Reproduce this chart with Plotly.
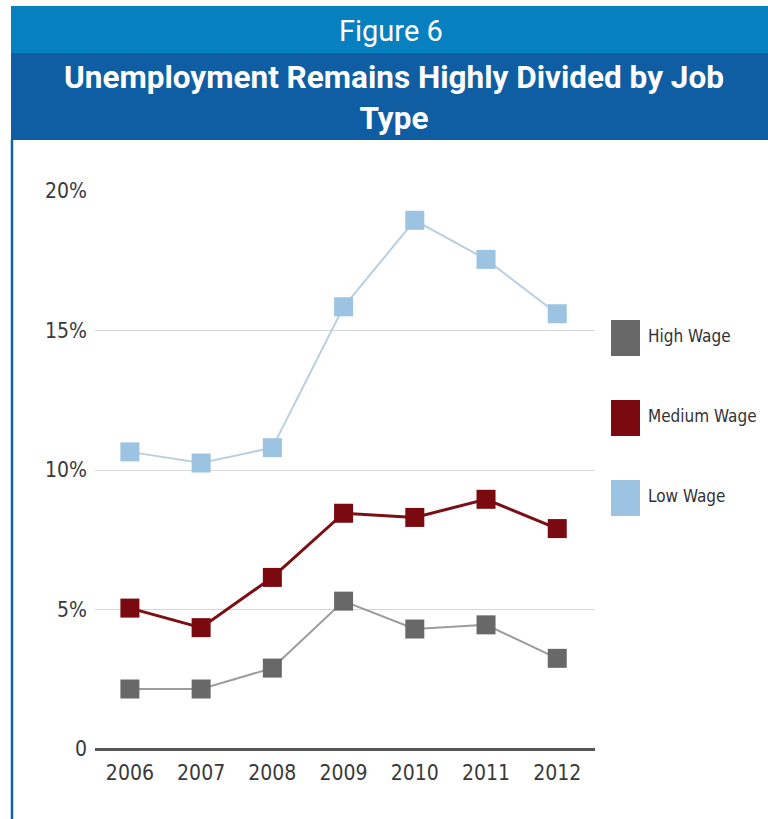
import plotly.graph_objects as go

# Unemployment rate by job type, 2006-2012 (percent)
years = [2006, 2007, 2008, 2009, 2010, 2011, 2012]
high_wage = [2.15, 2.15, 2.9, 5.3, 4.3, 4.45, 3.25]
medium_wage = [5.05, 4.35, 6.15, 8.45, 8.3, 8.95, 7.9]
low_wage = [10.65, 10.25, 10.8, 15.85, 18.95, 17.55, 15.6]

series_names = ["High Wage", "Medium Wage", "Low Wage"]
series_values = [high_wage, medium_wage, low_wage]
marker_colors = ["#686868", "#7a0a10", "#9dc3e2"]
line_colors = ["#9c9c9c", "#7a1015", "#b9cfe2"]
line_widths = [2, 3, 2]

y_ticks = [0, 5, 10, 15, 20]
y_tick_labels = ["0", "5%", "10%", "15%", "20%"]

NARROW = "DejaVu Sans Condensed, Roboto, sans-serif"
TITLE = "Roboto, sans-serif"

fig = go.Figure()

# draw low wage first so the darker series sit on top
for i in [2, 1, 0]:
    fig.add_trace(go.Scatter(
        x=years, y=series_values[i], name=series_names[i],
        mode="lines+markers",
        line=dict(color=line_colors[i], width=line_widths[i]),
        marker=dict(symbol="square", size=19, color=marker_colors[i]),
        showlegend=False, cliponaxis=False,
    ))

W, H = 768, 819
L, R, T, B = 95, 173, 191, 70
PW, PH = W - L - R, H - T - B

def px(x):
    # page pixel -> paper fraction (paper spans the plot area)
    return (x - L) / PW

def py(y):
    return (H - B - y) / PH

shapes = [
    # header bands
    dict(type="rect", xref="paper", yref="paper", x0=px(11), x1=px(W + 2),
         y0=py(53), y1=py(6), fillcolor="#0780bf", line=dict(width=0), layer="below"),
    dict(type="rect", xref="paper", yref="paper", x0=px(11), x1=px(W + 2),
         y0=py(140), y1=py(53), fillcolor="#0f5ea3", line=dict(width=0), layer="below"),
    # left frame rule
    dict(type="line", xref="paper", yref="paper", x0=px(12), x1=px(12),
         y0=py(140), y1=py(H + 2), line=dict(color="#1461ab", width=2.5)),
]

annotations = [
    dict(text="Figure 6", xref="paper", yref="paper", x=px(391), y=py(31),
         showarrow=False, font=dict(family=TITLE, size=29, color="white"),
         xanchor="center", yanchor="middle"),
    dict(text="<b>Unemployment Remains Highly Divided by Job<br>Type</b>",
         xref="paper", yref="paper", x=px(394), y=py(98),
         showarrow=False, align="center",
         font=dict(family=TITLE, size=31.5, color="white"),
         xanchor="center", yanchor="middle"),
]

# legend swatches on the right
legend_y = [338, 418, 498]
for name, color, yc in zip(series_names, marker_colors, legend_y):
    shapes.append(dict(type="rect", xref="paper", yref="paper",
                       x0=px(611), x1=px(640), y0=py(yc + 18), y1=py(yc - 18),
                       fillcolor=color, line=dict(width=0)))
    annotations.append(dict(text=name, xref="paper", yref="paper",
                            x=px(646), y=py(yc - 2), showarrow=False,
                            xanchor="left", yanchor="middle",
                            font=dict(family=NARROW, size=17, color="#333333")))

fig.update_layout(
    width=W, height=H,
    margin=dict(l=L, r=R, t=T, b=B, pad=0),
    paper_bgcolor="white", plot_bgcolor="white",
    shapes=shapes, annotations=annotations,
    xaxis=dict(range=[2005.51, 2012.53], tickvals=years,
               ticktext=[str(y) for y in years],
               showgrid=False, zeroline=False,
               showline=False, ticks="", ticklabelstandoff=9,
               tickfont=dict(family=NARROW, size=21, color="#3a3a3a")),
    yaxis=dict(range=[0, 20], tickvals=y_ticks, ticktext=y_tick_labels,
               showgrid=True, gridcolor="#d6d6d6", gridwidth=1.2,
               zeroline=True, zerolinecolor="#555555", zerolinewidth=2.5,
               showline=False, ticks="", ticklabelstandoff=7,
               tickfont=dict(family=NARROW, size=21, color="#3a3a3a")),
)

fig.write_html("out.html")
